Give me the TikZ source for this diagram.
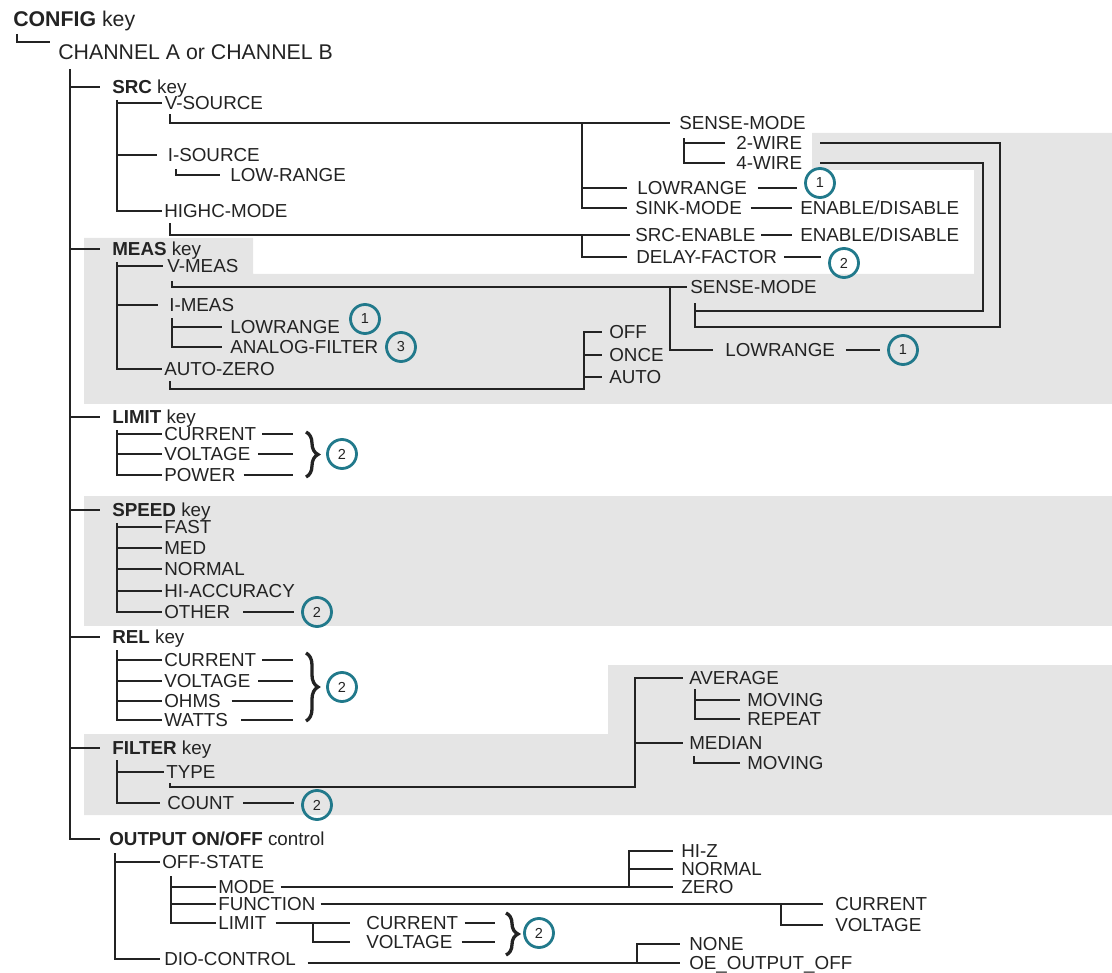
\documentclass[tikz,border=0pt]{standalone}
\usepackage{fontspec}
\setmainfont{Liberation Sans}
\usetikzlibrary{decorations.pathreplacing,calc}
\definecolor{bg}{RGB}{229,229,229}
\definecolor{ink}{RGB}{35,35,35}
\definecolor{ring}{RGB}{33,121,139}
\begin{document}
\begin{tikzpicture}[x=1pt,y=-1pt,color=ink,line width=2.6pt,
  lbl/.style={anchor=west,inner xsep=1.5pt,inner ysep=0pt,text height=13.5pt,text depth=0pt,font=\fontsize{18.8}{20}\selectfont,text=ink},
  hdr/.style={lbl,text height=15pt,font=\fontsize{21.3}{22}\selectfont},
  num/.style={circle,draw=ring,line width=2.8pt,minimum size=29pt,inner sep=0pt,outer sep=9pt,font=\fontsize{14.5}{14.5}\selectfont,text=ink},
  brc/.style={decorate,decoration={brace,amplitude=12pt},line width=3.3pt}]
\useasboundingbox (0,0) rectangle (1112,973);
% backgrounds
\fill[bg] (84,238) -- (253,238) -- (253,274) -- (974,274) -- (974,170) -- (812,170) -- (812,133) -- (1112,133) -- (1112,404) -- (84,404) -- cycle;
\fill[bg] (84,496) rectangle (1112,626);
\fill[bg] (84,734) -- (608,734) -- (608,665) -- (1112,665) -- (1112,815) -- (84,815) -- cycle;

% header
\node[hdr] (config) at (10.5,19) {\textbf{CONFIG} key};
\node[hdr] (chan) at (55.5,52) {CHANNEL A or CHANNEL B};
\draw ([shift={(6.5,6)}]config.south west) |- ([shift={(-5.5,-10)}]chan.west);

% keys
\node[lbl] (src) at (109.5,87) {\textbf{SRC} key};
\node[lbl] (meas) at (109.5,249) {\textbf{MEAS} key};
\node[lbl] (limit) at (109.5,417) {\textbf{LIMIT} key};
\node[lbl] (speed) at (109.5,510) {\textbf{SPEED} key};
\node[lbl] (rel) at (109.5,637) {\textbf{REL} key};
\node[lbl] (filter) at (109.5,748) {\textbf{FILTER} key};
\node[lbl] (output) at (106.5,839) {\textbf{OUTPUT ON/OFF} control};
\coordinate (tr) at (70,69);
\draw (tr) |- ([xshift=-6.5pt]output.west);
\foreach \k in {src,meas,limit,speed,rel,filter}
  \draw (tr |- \k.west) -- ([xshift=-9.5pt]\k.west);

% SRC subtree
\node[lbl] (vsrc) at (162,103) {V-SOURCE};
\node[lbl] (isrc) at (165,155) {I-SOURCE};
\node[lbl] (highc) at (161.5,211) {HIGHC-MODE};
\node[lbl] (lowrng) at (227.5,175) {LOW-RANGE};
\coordinate (sv) at (117,100);
\draw (sv) |- (highc.west);
\draw (sv |- vsrc.west) -- (vsrc.west);
\draw (sv |- isrc.west) -- ([xshift=-8pt]isrc.west);
\draw ([shift={(11,6)}]isrc.south west) |- ([xshift=-7.5pt]lowrng.west);

\node[lbl] (sense1) at (676.5,123) {SENSE-MODE};
\node[lbl] (wire2) at (733.5,143) {2-WIRE};
\node[lbl] (wire4) at (733.5,163) {4-WIRE};
\node[lbl] (lowr1) at (634.5,188) {LOWRANGE};
\node[lbl] (sink) at (632.5,208) {SINK-MODE};
\node[lbl] (en1) at (797.5,208) {ENABLE/DISABLE};
\node[lbl] (srcen) at (632.5,235) {SRC-ENABLE};
\node[lbl] (en2) at (797.5,235) {ENABLE/DISABLE};
\node[lbl] (delay) at (633.5,257) {DELAY-FACTOR};
\node[num] (c1a) at (820,183) {1};
\node[num] (c2a) at (844,263) {2};

\draw ([shift={(8,3)}]vsrc.south west) |- ([xshift=-6.5pt]sense1.west);
\coordinate (j1) at (582,123);
\draw (j1) |- ([xshift=-5.5pt]sink.west);
\draw (j1 |- lowr1.west) -- ([xshift=-7.5pt]lowr1.west);
\draw ([xshift=6pt]sink.east) -- ([xshift=-5.5pt]en1.west);
\draw ([xshift=8pt]lowr1.east) -- (c1a.west |- lowr1.east);
\draw ([shift={(8.5,4)}]highc.south west) |- ([xshift=-3pt]srcen.west);
\coordinate (j2) at (582,235);
\draw (j2) |- ([xshift=-6.5pt]delay.west);
\draw ([xshift=3pt]srcen.east) -- ([xshift=-5.5pt]en2.west);
\draw ([xshift=4pt]delay.east) -- (c2a.west |- delay.east);

\coordinate (s1v) at ([shift={(7.5,7)}]sense1.south west);
\draw (s1v) |- ([xshift=-8.5pt]wire4.west);
\draw (s1v |- wire2.west) -- ([xshift=-8.5pt]wire2.west);

% MEAS subtree
\node[lbl] (vmeas) at (164.5,266) {V-MEAS};
\node[lbl] (imeas) at (166.5,305) {I-MEAS};
\node[lbl] (autoz) at (161.5,369) {AUTO-ZERO};
\node[lbl] (lowr2) at (227.5,327) {LOWRANGE};
\node[lbl] (anaf) at (227.5,347) {ANALOG-FILTER};
\node[num] (c1b) at (365,319) {1};
\node[num] (c3) at (401,347) {3};
\coordinate (mv) at (117,262);
\draw (mv) |- (autoz.west);
\draw (mv |- vmeas.west) -- ([xshift=-1.5pt]vmeas.west);
\draw (mv |- imeas.west) -- ([xshift=-8.5pt]imeas.west);
\coordinate (iv) at ([shift={(5.5,5)}]imeas.south west);
\draw (iv) |- ([xshift=-5.5pt]anaf.west);
\draw (iv |- lowr2.west) -- ([xshift=-5.5pt]lowr2.west);

\node[lbl] (sense2) at (687.5,287) {SENSE-MODE};
\node[lbl] (lowr3) at (722.5,350) {LOWRANGE};
\node[num] (c1c) at (903,350) {1};
\draw ([shift={(7.5,7)}]vmeas.south west) |- ([xshift=-0.5pt]sense2.west);
\coordinate (j3) at (670,287);
\draw (j3) |- ([xshift=-9.5pt]lowr3.west);
\draw ([xshift=8pt]lowr3.east) -- (c1c.west |- lowr3.east);

\coordinate (s2v) at ([shift={(7.5,8)}]sense2.south west);
\coordinate (o2) at (1000,327);
\coordinate (o4) at (983,311);
\draw (s2v) |- (o2) |- ([xshift=15.5pt]wire2.east);
\draw (s2v |- o4) -- (o4) |- ([xshift=15.5pt]wire4.east);

\node[lbl] (off) at (606.5,332) {OFF};
\node[lbl] (once) at (606.5,355) {ONCE};
\node[lbl] (autoo) at (606.5,377) {AUTO};
\coordinate (j4) at (584,389);
\draw ([shift={(8.5,4)}]autoz.south west) |- (j4) |- ([xshift=-4.5pt]off.west);
\draw (j4 |- once.west) -- ([xshift=-4.5pt]once.west);
\draw (j4 |- autoo.west) -- ([xshift=-4.5pt]autoo.west);

% LIMIT
\node[lbl] (lcur) at (161.5,434) {CURRENT};
\node[lbl] (lvol) at (161.5,454) {VOLTAGE};
\node[lbl] (lpow) at (161.5,475) {POWER};
\coordinate (lv) at (117,430);
\draw (lv) |- (lpow.west);
\draw (lv |- lcur.west) -- (lcur.west);
\draw (lv |- lvol.west) -- (lvol.west);
\coordinate (lbx) at (293,454);
\draw ([xshift=3pt]lcur.east) -- (lcur.east -| lbx);
\draw ([xshift=5pt]lvol.east) -- (lvol.east -| lbx);
\draw ([xshift=5.5pt]lpow.east) -- (lpow.east -| lbx);
\draw[brc] (306,432) -- (306,477);
\node[num] (c2b) at (342,454) {2};

% SPEED
\node[lbl] (fast) at (161.5,527) {FAST};
\node[lbl] (med) at (161.5,548) {MED};
\node[lbl] (normal) at (161.5,569) {NORMAL};
\node[lbl] (hiacc) at (161.5,591) {HI-ACCURACY};
\node[lbl] (other) at (161.5,612) {OTHER};
\coordinate (spv) at (117,523);
\draw (spv) |- (other.west);
\foreach \k in {fast,med,normal,hiacc}
  \draw (spv |- \k.west) -- (\k.west);
\node[num] (c2c) at (317,612) {2};
\draw ([xshift=10.5pt]other.east) -- (c2c.west |- other.east);

% REL
\node[lbl] (rcur) at (161.5,660) {CURRENT};
\node[lbl] (rvol) at (161.5,681) {VOLTAGE};
\node[lbl] (rohm) at (161.5,701) {OHMS};
\node[lbl] (rwat) at (161.5,720) {WATTS};
\coordinate (rv) at (117,650);
\draw (rv) |- (rwat.west);
\foreach \k in {rcur,rvol,rohm}
  \draw (rv |- \k.west) -- (\k.west);
\coordinate (rbx) at (293,687);
\draw ([xshift=3pt]rcur.east) -- (rcur.east -| rbx);
\draw ([xshift=5pt]rvol.east) -- (rvol.east -| rbx);
\draw ([xshift=8pt]rohm.east) -- (rohm.east -| rbx);
\draw ([xshift=10.5pt]rwat.east) -- (rwat.east -| rbx);
\draw[brc] (306,653) -- (306,721);
\node[num] (c2d) at (342,687) {2};

% FILTER
\node[lbl] (typ) at (163.5,772) {TYPE};
\node[lbl] (cnt) at (164.5,803) {COUNT};
\coordinate (fv) at (117,760);
\draw (fv) |- ([xshift=-4.5pt]cnt.west);
\draw (fv |- typ.west) -- (typ.west);
\node[num] (c2e) at (317,805) {2};
\draw ([xshift=6.5pt]cnt.east) -- (c2e.west |- cnt.east);

\node[lbl] (avg) at (686.5,678) {AVERAGE};
\node[lbl] (med2) at (686.5,743) {MEDIAN};
\node[lbl] (mov1) at (744.5,700) {MOVING};
\node[lbl] (rep) at (744.5,719) {REPEAT};
\node[lbl] (mov2) at (744.5,763) {MOVING};
\coordinate (j5) at (635,787);
\draw ([shift={(6.5,3)}]typ.south west) |- (j5) |- ([xshift=-3.5pt]avg.west);
\draw (j5 |- med2.west) -- ([xshift=-3.5pt]med2.west);
\coordinate (av) at ([shift={(8.5,3)}]avg.south west);
\draw (av) |- ([xshift=-4.5pt]rep.west);
\draw (av |- mov1.west) -- ([xshift=-4.5pt]mov1.west);
\draw ([shift={(7.5,5)}]med2.south west) |- ([xshift=-4.5pt]mov2.west);

% OUTPUT
\node[lbl] (offst) at (159.5,862) {OFF-STATE};
\node[lbl] (dio) at (161.5,959) {DIO-CONTROL};
\coordinate (ov) at (115,853);
\draw (ov) |- ([xshift=-1.5pt]dio.west);
\draw (ov |- offst.west) -- (offst.west);
\node[lbl] (mode) at (215.5,887) {MODE};
\node[lbl] (func) at (215.5,904) {FUNCTION};
\node[lbl] (lim) at (215.5,923) {LIMIT};
\coordinate (osv) at ([shift={(11.5,6)}]offst.south west);
\draw (osv) |- (lim.west);
\draw (osv |- mode.west) -- (mode.west);
\draw (osv |- func.west) -- (func.west);

\node[lbl] (hiz) at (678.5,851) {HI-Z};
\node[lbl] (norm) at (678.5,869) {NORMAL};
\node[lbl] (zero) at (678.5,887) {ZERO};
\draw ([xshift=3pt]mode.east) -- ([xshift=-5.5pt]zero.west);
\coordinate (j6) at (629,887);
\draw (j6) |- ([xshift=-5.5pt]hiz.west);
\draw (j6 |- norm.west) -- ([xshift=-5.5pt]norm.west);

\node[lbl] (fcur) at (832.5,904) {CURRENT};
\node[lbl] (fvol) at (832.5,925) {VOLTAGE};
\draw ([xshift=2.5pt]func.east) -- ([xshift=-9.5pt]fcur.west);
\coordinate (j7) at (781,904);
\draw (j7) |- ([xshift=-9.5pt]fvol.west);

\node[lbl] (lcur2) at (363.5,923) {CURRENT};
\node[lbl] (lvol2) at (363.5,942) {VOLTAGE};
\draw ([xshift=6.5pt]lim.east) -- ([xshift=-13.5pt]lcur2.west);
\coordinate (j8) at (313,923);
\draw (j8) |- ([xshift=-13.5pt]lvol2.west);
\coordinate (bbx) at (495,933);
\draw ([xshift=3.5pt]lcur2.east) -- (lcur2.east -| bbx);
\draw ([xshift=6.5pt]lvol2.east) -- (lvol2.east -| bbx);
\draw[brc] (506,913) -- (506,955);
\node[num] (c2f) at (539,933) {2};

\node[lbl] (none) at (686.5,944) {NONE};
\node[lbl] (oe) at (686.5,963) {OE\_OUTPUT\_OFF};
\draw ([shift={(9,4)}]dio.east) -- ([xshift=-6.5pt]oe.west);
\coordinate (j9) at (637,963);
\draw (j9) |- ([xshift=-6.5pt]none.west);
\end{tikzpicture}
\end{document}
